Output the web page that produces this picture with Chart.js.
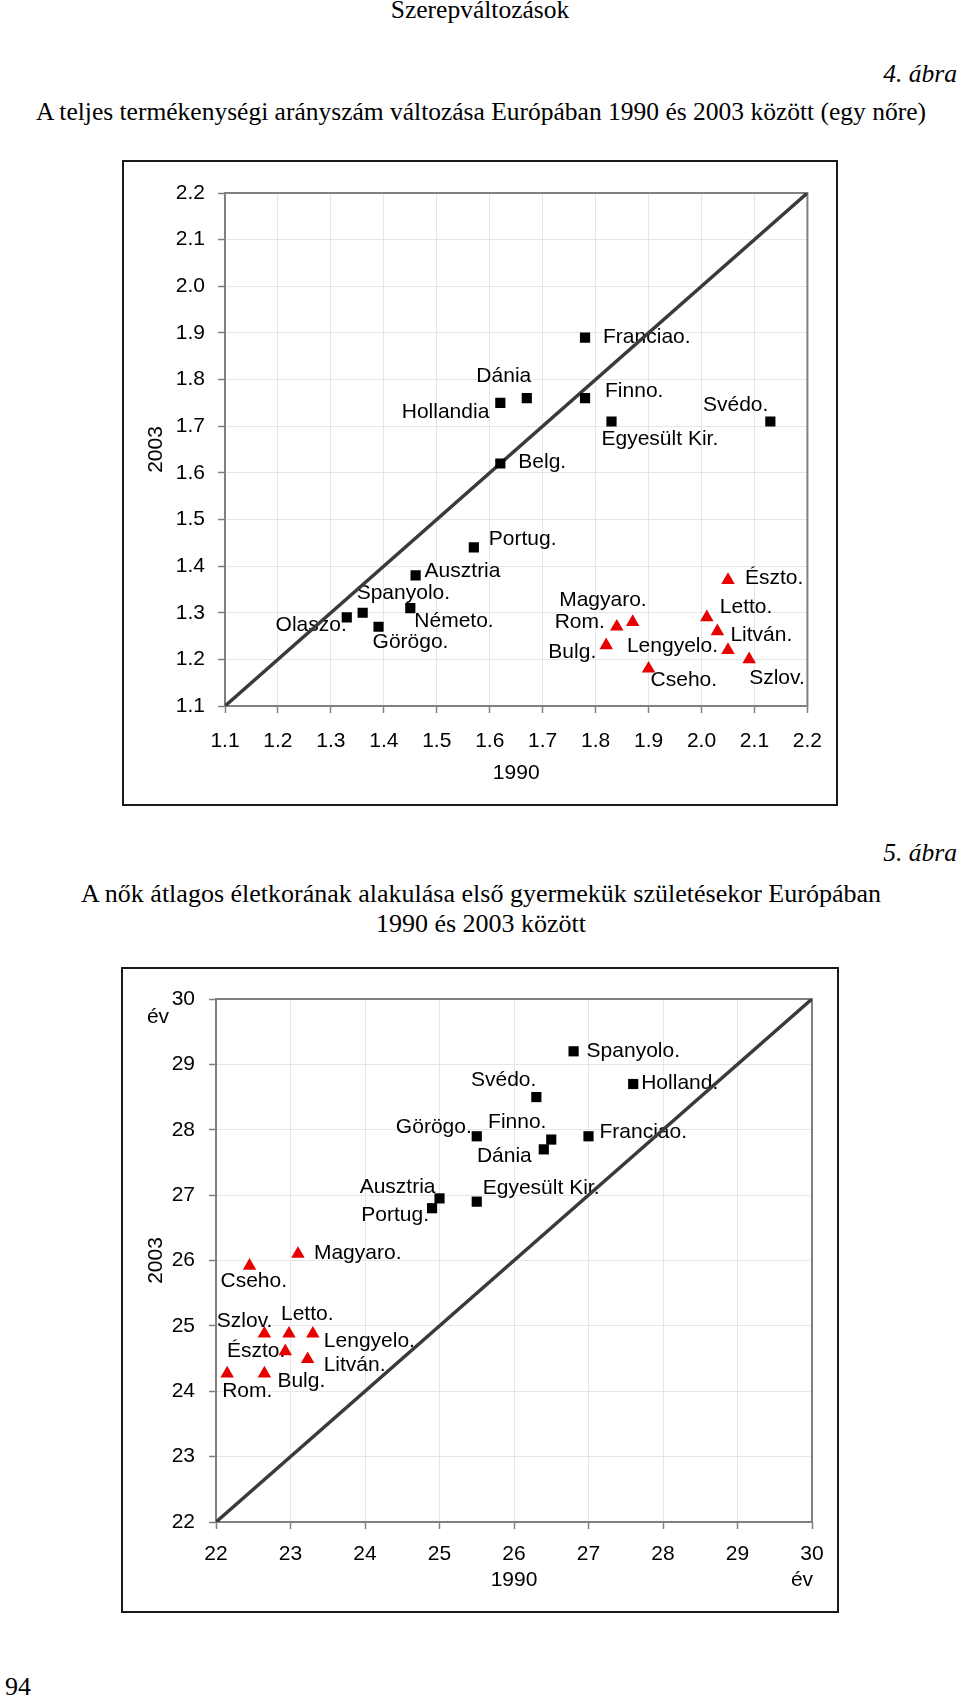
<!DOCTYPE html>
<html>
<head>
<meta charset="utf-8">
<script src="https://cdn.jsdelivr.net/npm/chart.js@4.4.0/dist/chart.umd.min.js"></script>
<style>
body { margin: 0; background: #fff; width: 960px; height: 1699px; position: relative; overflow: hidden;
       font-family: "Liberation Serif", "Times New Roman", serif; color: #000; }
.t { position: absolute; white-space: nowrap; line-height: 1; }
.frame { position: absolute; border: 2px solid #1a1a1a; box-sizing: border-box; }
canvas { position: absolute; }
</style>
</head>
<body>
<div class="t" style="left:0;width:960px;text-align:center;top:-3px;font-size:25.5px">Szerepváltozások</div>
<div class="t" style="right:3px;top:61px;font-size:25.5px;font-style:italic">4. ábra</div>
<div class="t" style="left:0;width:962px;text-align:center;top:99px;font-size:25.5px">A teljes termékenységi arányszám változása Európában 1990 és 2003 között (egy nőre)</div>

<div class="frame" style="left:122px;top:160px;width:716px;height:646px"></div>
<canvas id="tfrChart" width="716" height="646" style="left:122px;top:160px"></canvas>

<div class="t" style="right:3px;top:840px;font-size:25.5px;font-style:italic">5. ábra</div>
<div class="t" style="left:0;width:962px;text-align:center;top:881px;font-size:26px">A nők átlagos életkorának alakulása első gyermekük születésekor Európában</div>
<div class="t" style="left:0;width:962px;text-align:center;top:911px;font-size:26px">1990 és 2003 között</div>

<div class="frame" style="left:121px;top:967px;width:718px;height:646px"></div>
<canvas id="ageChart" width="718" height="646" style="left:121px;top:967px"></canvas>

<div class="t" style="left:5px;top:1674px;font-size:26px">94</div>

<script>
// 4. ábra: teljes termékenységi arányszám (1990 -> 2003)
var tfrWestNames = ['Franciao.', 'Dánia', 'Hollandia', 'Finno.', 'Egyesült Kir.', 'Svédo.', 'Belg.',
                    'Portug.', 'Ausztria', 'Spanyolo.', 'Olaszo.', 'Németo.', 'Görögo.'];
var tfrWest1990 = [1.78, 1.67, 1.62, 1.78, 1.83, 2.13, 1.62, 1.57, 1.46, 1.36, 1.33, 1.45, 1.39];
var tfrWest2003 = [1.89, 1.76, 1.75, 1.76, 1.71, 1.71, 1.62, 1.44, 1.38, 1.30, 1.29, 1.31, 1.27];
var tfrEastNames = ['Magyaro.', 'Rom.', 'Bulg.', 'Cseho.', 'Észto.', 'Letto.', 'Litván.', 'Lengyelo.', 'Szlov.'];
var tfrEast1990 = [1.87, 1.84, 1.82, 1.90, 2.05, 2.01, 2.03, 2.05, 2.09];
var tfrEast2003 = [1.28, 1.27, 1.23, 1.18, 1.37, 1.29, 1.26, 1.22, 1.20];
var tfrTicks = [1.1, 1.2, 1.3, 1.4, 1.5, 1.6, 1.7, 1.8, 1.9, 2.0, 2.1, 2.2];
var tfrTickLabels = ['1.1', '1.2', '1.3', '1.4', '1.5', '1.6', '1.7', '1.8', '1.9', '2.0', '2.1', '2.2'];

// 5. ábra: anyák átlagos életkora az első gyermek születésekor
var ageWestNames = ['Spanyolo.', 'Svédo.', 'Holland.', 'Görögo.', 'Finno.', 'Dánia', 'Franciao.',
                    'Ausztria', 'Portug.', 'Egyesült Kir.'];
var ageWest1990 = [26.8, 26.3, 27.6, 25.5, 26.5, 26.4, 27.0, 25.0, 24.9, 25.5];
var ageWest2003 = [29.2, 28.5, 28.7, 27.9, 27.85, 27.7, 27.9, 26.95, 26.8, 26.9];
var ageEastNames = ['Magyaro.', 'Cseho.', 'Szlov.', 'Letto.', 'Lengyelo.', 'Észto.', 'Litván.', 'Rom.', 'Bulg.'];
var ageEast1990 = [23.1, 22.45, 22.65, 22.98, 23.3, 22.93, 23.23, 22.15, 22.65];
var ageEast2003 = [26.1, 25.92, 24.88, 24.88, 24.88, 24.61, 24.49, 24.27, 24.27];
var ageTicks = [22, 23, 24, 25, 26, 27, 28, 29, 30];
var ageTickLabels = ['22', '23', '24', '25', '26', '27', '28', '29', '30'];

var sansFont = '"Liberation Sans", Arial, sans-serif';

function pts(xs, ys) {
    return xs.map(function (x, i) { return { x: x, y: ys[i] }; });
}

// labels next to the markers + plot frame
var pointLabels = {
    id: 'pointLabels',
    beforeDatasetsDraw: function (chart, args, opts) {
        var ctx = chart.ctx, a = chart.chartArea;
        ctx.save();
        ctx.strokeStyle = '#808080';
        ctx.lineWidth = 2;
        ctx.strokeRect(a.left, a.top, a.right - a.left, a.bottom - a.top);
        ctx.font = '21px ' + sansFont;
        ctx.fillStyle = '#000';
        ctx.textBaseline = 'middle';
        chart.data.datasets.forEach(function (ds, i) {
            if (!ds.names) return;
            chart.getDatasetMeta(i).data.forEach(function (p, j) {
                var o = opts.offsets[ds.names[j]] || [12, 0, 'left'];
                ctx.textAlign = o[2];
                ctx.fillText(ds.names[j], p.x + o[0], p.y + o[1]);
            });
        });
        (opts.extra || []).forEach(function (e) {
            ctx.textAlign = 'center';
            var x = e.from === 'right' ? a.right + e.dx : a.left + e.dx;
            var y = e.fromY === 'bottom' ? a.bottom + e.dy : a.top + e.dy;
            ctx.fillText(e.text, x, y);
        });
        ctx.restore();
    }
};

function axis(ticks, labels, title, size, pad) {
    return {
        type: 'linear',
        min: ticks[0],
        max: ticks[ticks.length - 1],
        afterBuildTicks: function (s) { s.ticks = ticks.map(function (v) { return { value: v }; }); },
        afterFit: function (s) { if (s.isHorizontal()) s.height = size; else s.width = size; },
        ticks: {
            callback: function (v, i) { return labels[i]; },
            color: '#000',
            padding: pad,
            font: { family: sansFont, size: 21 }
        },
        grid: { color: '#e6e6e6', lineWidth: 1, tickColor: '#808080', tickLength: 7, tickWidth: 1.5 },
        border: { display: false },
        title: { display: true, text: title, color: '#000', padding: 0, font: { family: sansFont, size: 21 } }
    };
}

// 4. ábra
new Chart(document.getElementById('tfrChart'), {
    type: 'scatter',
    data: {
        datasets: [{
            names: tfrWestNames,
            data: pts(tfrWest1990, tfrWest2003),
            pointStyle: 'rect', pointRadius: 7.2, pointHoverRadius: 7.2,
            backgroundColor: '#000', borderWidth: 0
        }, {
            names: tfrEastNames,
            data: pts(tfrEast1990, tfrEast2003),
            pointStyle: 'triangle', pointRadius: 7.8, pointHoverRadius: 7.8,
            backgroundColor: '#e60000', borderWidth: 0
        }, {
            data: pts([tfrTicks[0], tfrTicks[11]], [tfrTicks[0], tfrTicks[11]]),
            showLine: true, borderColor: '#3a3a3a', borderWidth: 3.5, pointRadius: 0
        }]
    },
    plugins: [pointLabels],
    options: {
        responsive: false, animation: false, devicePixelRatio: 1,
        layout: { padding: { left: 22, top: 33, right: 29, bottom: 20 } },
        plugins: {
            legend: { display: false }, tooltip: { enabled: false },
            pointLabels: {
                offsets: {
                    'Franciao.': [18, 0, 'left'], 'Dánia': [-23, -22, 'center'], 'Hollandia': [-11, 9, 'right'],
                    'Finno.': [20, -7, 'left'], 'Svédo.': [-2, -16, 'right'], 'Egyesült Kir.': [-10, 18, 'left'],
                    'Belg.': [18, -1, 'left'], 'Portug.': [15, -8, 'left'], 'Ausztria': [9, -4, 'left'],
                    'Spanyolo.': [-6, -20, 'left'], 'Olaszo.': [0, 8, 'right'], 'Németo.': [4, 13, 'left'],
                    'Görögo.': [-6, 15, 'left'], 'Magyaro.': [14, -22, 'right'], 'Rom.': [-12, -5, 'right'],
                    'Bulg.': [-10, 7, 'right'], 'Lengyelo.': [-10, -4, 'right'], 'Cseho.': [2, 12, 'left'],
                    'Észto.': [17, -2, 'left'], 'Letto.': [13, -10, 'left'], 'Litván.': [13, 4, 'left'],
                    'Szlov.': [0, 19, 'left']
                }
            }
        },
        scales: {
            x: axis(tfrTicks, tfrTickLabels, '1990', 80, 16),
            y: axis(tfrTicks, tfrTickLabels, '2003', 81, 13)
        }
    }
});

// 5. ábra
new Chart(document.getElementById('ageChart'), {
    type: 'scatter',
    data: {
        datasets: [{
            names: ageWestNames,
            data: pts(ageWest1990, ageWest2003),
            pointStyle: 'rect', pointRadius: 7.2, pointHoverRadius: 7.2,
            backgroundColor: '#000', borderWidth: 0
        }, {
            names: ageEastNames,
            data: pts(ageEast1990, ageEast2003),
            pointStyle: 'triangle', pointRadius: 7.8, pointHoverRadius: 7.8,
            backgroundColor: '#e60000', borderWidth: 0
        }, {
            data: pts([ageTicks[0], ageTicks[8]], [ageTicks[0], ageTicks[8]]),
            showLine: true, borderColor: '#3a3a3a', borderWidth: 3.5, pointRadius: 0
        }]
    },
    plugins: [pointLabels],
    options: {
        responsive: false, animation: false, devicePixelRatio: 1,
        layout: { padding: { left: 23, top: 32, right: 27, bottom: 20 } },
        plugins: {
            legend: { display: false }, tooltip: { enabled: false },
            pointLabels: {
                offsets: {
                    'Spanyolo.': [13, 0, 'left'], 'Svédo.': [0, -17, 'right'], 'Holland.': [8, -1, 'left'],
                    'Görögo.': [-5, -9, 'right'], 'Finno.': [-34, -17, 'center'], 'Dánia': [-12, 7, 'right'],
                    'Franciao.': [11, -4, 'left'], 'Ausztria': [-4, -11, 'right'], 'Portug.': [-3, 7, 'right'],
                    'Egyesült Kir.': [6, -13, 'left'], 'Magyaro.': [16, -1, 'left'], 'Cseho.': [-29, 15, 'left'],
                    'Szlov.': [8, -13, 'right'], 'Letto.': [-8, -20, 'left'], 'Lengyelo.': [11, 7, 'left'],
                    'Észto.': [0, 0, 'right'], 'Litván.': [16, 6, 'left'], 'Rom.': [-5, 18, 'left'],
                    'Bulg.': [13, 8, 'left']
                },
                extra: [
                    { text: 'év', dx: -58, dy: 18 },
                    { text: 'év', from: 'right', fromY: 'bottom', dx: -10, dy: 58 }
                ]
            }
        },
        scales: {
            x: axis(ageTicks, ageTickLabels, '1990', 71, 13),
            y: axis(ageTicks, ageTickLabels, '2003', 72, 14)
        }
    }
});
</script>
</body>
</html>
